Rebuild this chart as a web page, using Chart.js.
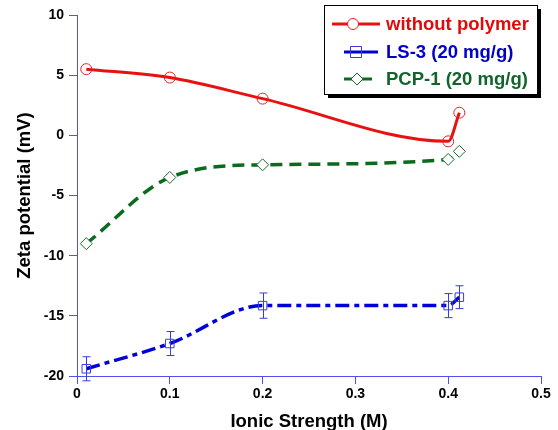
<!DOCTYPE html>
<html>
<head>
<meta charset="utf-8">
<script src="https://cdn.jsdelivr.net/npm/chart.js@4.4.0/dist/chart.umd.min.js"></script>
<style>
  html, body { margin: 0; padding: 0; background: #fff; }
  #wrap { width: 558px; height: 430px; position: relative; }
</style>
</head>
<body>
<div id="wrap"><canvas id="zetaChart" width="558" height="430"></canvas></div>
<script>
// Dados
const ionicStrength = [0.01, 0.1, 0.2, 0.4, 0.412];
const withoutPolymer = [5.5, 4.8, 3.05, -0.5, 1.88];
const ls3 = [-19.4, -17.3, -14.15, -14.15, -13.45];
const ls3Error = [1.0, 1.0, 1.05, 1.0, 0.95];
const pcp1 = [-9.0, -3.5, -2.45, -2.0, -1.33];

const seriesLabels = ['without polymer', 'LS-3 (20 mg/g)', 'PCP-1 (20 mg/g)'];
const xTicks = [0, 0.1, 0.2, 0.3, 0.4, 0.5];
const yTicks = [-20, -15, -10, -5, 0, 5, 10];

const AXIS_COLOR = '#5050ee';
const FONT = "'Liberation Sans', Arial, sans-serif";

function toPoints(values) {
    return values.map((v, i) => ({ x: ionicStrength[i], y: v }));
}

// Barras de erro do LS-3
const errorBarsPlugin = {
    id: 'errorBars',
    afterDatasetsDraw(chart) {
        const ctx = chart.ctx;
        const xs = chart.scales.x, ys = chart.scales.y;
        ctx.save();
        ctx.strokeStyle = '#3a3ae0';
        ctx.lineWidth = 1;
        ls3.forEach((v, i) => {
            const px = Math.round(xs.getPixelForValue(ionicStrength[i])) + 0.5;
            const top = ys.getPixelForValue(v + ls3Error[i]);
            const bot = ys.getPixelForValue(v - ls3Error[i]);
            ctx.beginPath();
            ctx.moveTo(px, top); ctx.lineTo(px, bot);
            ctx.moveTo(px - 4, top); ctx.lineTo(px + 4, top);
            ctx.moveTo(px - 4, bot); ctx.lineTo(px + 4, bot);
            ctx.stroke();
        });
        ctx.restore();
    }
};

// Legenda desenhada à mão (linha + marcador)
const boxLegendPlugin = {
    id: 'boxLegend',
    afterDraw(chart) {
        const ctx = chart.ctx;
        const bx = 324, by = 5, bw = 213, bh = 89;
        ctx.save();
        ctx.fillStyle = '#000';
        ctx.fillRect(bx + 4, by + 4, bw, bh);
        ctx.fillStyle = '#fff';
        ctx.fillRect(bx, by, bw, bh);
        ctx.strokeStyle = '#000';
        ctx.lineWidth = 1;
        ctx.strokeRect(bx + 0.5, by + 0.5, bw, bh);

        const rows = [
            { y: 24, x1: 332, x2: 380, mx: 353, dash: [] },
            { y: 52, x1: 344, x2: 378, mx: 356, dash: [] },
            { y: 79, x1: 344, x2: 378, mx: 357, dash: [11, 6] }
        ];
        chart.data.datasets.forEach((ds, i) => {
            const r = rows[i];
            ctx.strokeStyle = ds.borderColor;
            ctx.lineWidth = 3;
            ctx.setLineDash(r.dash);
            ctx.beginPath();
            ctx.moveTo(r.x1, r.y); ctx.lineTo(r.x2, r.y);
            ctx.stroke();
            ctx.setLineDash([]);
            ctx.lineWidth = 1;
            ctx.strokeStyle = ds.pointBorderColor;
            ctx.fillStyle = '#fff';
            ctx.beginPath();
            if (ds.pointStyle === 'circle') {
                ctx.arc(r.mx, r.y, 5.5, 0, Math.PI * 2);
                ctx.fill(); ctx.stroke();
            } else if (ds.pointStyle === 'rect') {
                ctx.rect(r.mx - 5.5, r.y - 5.5, 11, 11);
                ctx.stroke();
            } else {
                ctx.moveTo(r.mx, r.y - 6); ctx.lineTo(r.mx + 6, r.y);
                ctx.lineTo(r.mx, r.y + 6); ctx.lineTo(r.mx - 6, r.y);
                ctx.closePath();
                ctx.fill(); ctx.stroke();
            }
            ctx.fillStyle = ds.textColor;
            ctx.font = 'bold 18.5px ' + FONT;
            ctx.textBaseline = 'middle';
            ctx.fillText(ds.label, 386, r.y + 1);
        });
        ctx.restore();
    }
};

new Chart(document.getElementById('zetaChart').getContext('2d'), {
    type: 'line',
    data: {
        datasets: [
            {
                label: seriesLabels[0],
                data: toPoints(withoutPolymer),
                borderColor: '#e81010',
                textColor: '#e00a0a',
                borderWidth: 3,
                cubicInterpolationMode: 'monotone',
                pointStyle: 'circle',
                pointRadius: 5.5,
                pointBorderWidth: 1,
                pointBorderColor: '#e82020',
                pointBackgroundColor: 'rgba(0,0,0,0)'
            },
            {
                label: seriesLabels[1],
                data: toPoints(ls3),
                borderColor: '#0000d8',
                textColor: '#0000c8',
                borderWidth: 3.5,
                borderDash: [14, 5, 5, 5],
                cubicInterpolationMode: 'monotone',
                pointStyle: 'rect',
                pointRadius: 6,
                pointBorderWidth: 1,
                pointBorderColor: '#3a3ae0',
                pointBackgroundColor: 'rgba(0,0,0,0)'
            },
            {
                label: seriesLabels[2],
                data: toPoints(pcp1),
                borderColor: '#0a6a1e',
                textColor: '#10662a',
                borderWidth: 3.5,
                borderDash: [12, 7],
                cubicInterpolationMode: 'monotone',
                pointStyle: 'rectRot',
                pointRadius: 6,
                pointBorderWidth: 1,
                pointBorderColor: '#1a6a2a',
                pointBackgroundColor: '#ffffff'
            }
        ]
    },
    options: {
        responsive: false,
        animation: false,
        layout: { padding: { left: 0, top: 15, right: 17, bottom: 0 } },
        plugins: {
            legend: { display: false },
            tooltip: { enabled: false }
        },
        scales: {
            x: {
                type: 'linear',
                min: 0,
                max: 0.5,
                afterFit: function(scale) { scale.height = 54; },
                afterBuildTicks: function(scale) { scale.ticks = xTicks.map(v => ({ value: v })); },
                border: { color: AXIS_COLOR, width: 1 },
                grid: { drawOnChartArea: false, drawTicks: true, tickLength: 8, color: AXIS_COLOR },
                ticks: { color: '#000', padding: 2, font: { family: FONT, size: 14, weight: 'bold' } },
                title: {
                    display: true,
                    text: 'Ionic Strength (M)',
                    color: '#000',
                    padding: { top: 0, bottom: -1 },
                    font: { family: FONT, size: 18.5, weight: 'bold', lineHeight: 1 }
                }
            },
            y: {
                min: -20,
                max: 10,
                afterFit: function(scale) { scale.width = 77; },
                afterBuildTicks: function(scale) { scale.ticks = yTicks.map(v => ({ value: v })); },
                border: { color: AXIS_COLOR, width: 1 },
                grid: { drawOnChartArea: false, drawTicks: true, tickLength: 8, color: AXIS_COLOR },
                ticks: { color: '#000', padding: 5, font: { family: FONT, size: 14, weight: 'bold' } },
                title: {
                    display: true,
                    text: 'Zeta potential (mV)',
                    color: '#000',
                    padding: { top: 16, bottom: 0 },
                    font: { family: FONT, size: 18.5, weight: 'bold', lineHeight: 1 }
                }
            }
        }
    },
    plugins: [errorBarsPlugin, boxLegendPlugin]
});
</script>
</body>
</html>
